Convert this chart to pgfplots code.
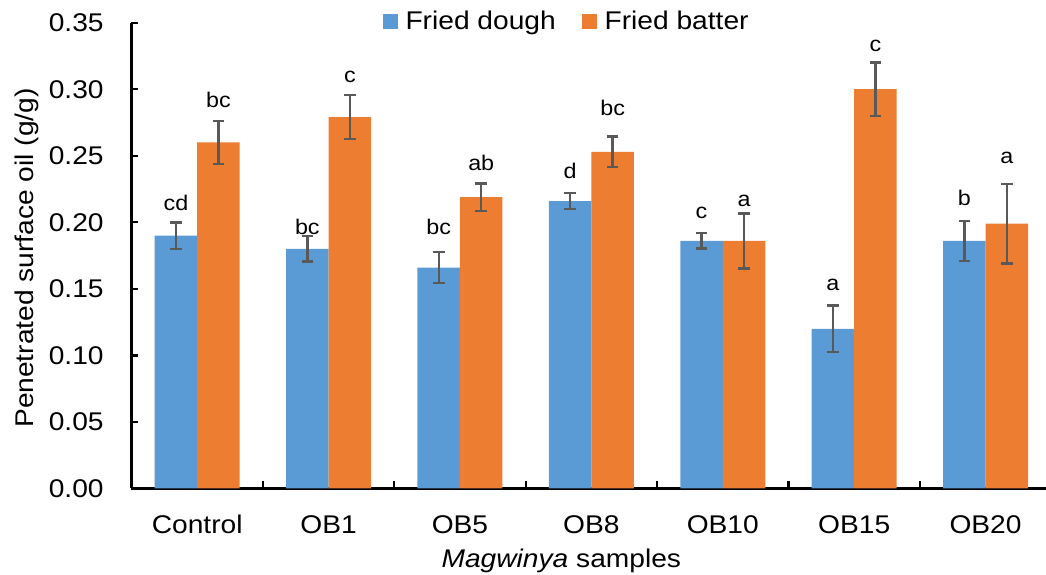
\documentclass[border=0pt]{standalone}
\usepackage{pgfplots}
\pgfplotsset{compat=1.18}
\usepackage{pgfplotstable}
\usepackage{fontspec}
\setmainfont[FakeStretch=1.1]{Liberation Sans}

\definecolor{doughblue}{HTML}{5B9BD5}
\definecolor{batterorange}{HTML}{ED7D31}
\definecolor{errgray}{HTML}{595959}

\newcommand\mainfs{\fontsize{12.8}{15.4}\selectfont}
\newcommand\letterfs{\fontsize{10.6}{12.5}\selectfont}

% x: sample index, y: mean, e: standard deviation, ly: height of the letter, lab: significance letter
\pgfplotstableread{
x  y      e       ly      lab
0  0.190  0.0100  0.2086  cd
1  0.180  0.0095  0.1910  bc
2  0.166  0.0116  0.1908  bc
3  0.216  0.0060  0.2329  d
4  0.186  0.0058  0.2029  c
5  0.120  0.0175  0.1485  a
6  0.186  0.0150  0.2128  b
}\dough

\pgfplotstableread{
x  y      e       ly      lab
0  0.260  0.0160  0.2866  bc
1  0.279  0.0165  0.3047  c
2  0.219  0.0103  0.2391  ab
3  0.253  0.0115  0.2804  bc
4  0.186  0.0206  0.2116  a
5  0.300  0.0200  0.3280  c
6  0.199  0.0300  0.2441  a
}\batter

% half a bar width, in axis units (10.625pt at 65.70pt per category)
\def\hoff{0.1617}

\begin{document}
\begin{tikzpicture}
\pgfplotsset{
  sq legend/.style={legend image code/.code={
      \fill[##1] (0pt,-3.75pt) rectangle (7.5pt,3.75pt);
      \path (11.4pt,0pt);}},
  letters/.style={draw=none, mark=none, forget plot,
      nodes near coords, point meta=explicit symbolic,
      nodes near coords style={anchor=base, inner sep=0pt, font=\letterfs, text=black}},
}
\begin{axis}[
  name=ax,
  scale only axis,
  width=457.25pt, height=232.9pt,
  xmin=-0.5, xmax=6.46,
  ymin=0, ymax=0.35,
  axis x line=bottom, axis y line=left,
  axis line style={-, line width=1.25pt, black},
  tick align=inside,
  tick style={line width=1.1pt, black},
  major tick length=3.5pt, minor tick length=3.5pt,
  xtick={0,1,2,3,4,5,6},
  xticklabels={Control,OB1,OB5,OB8,OB10,OB15,OB20},
  minor xtick={0.5,1.5,2.5,3.5,4.5,5.5},
  major x tick style={draw=none},
  ytick={0,0.05,0.10,0.15,0.20,0.25,0.30,0.35},
  yticklabel style={anchor=east, inner sep=0pt, xshift=-13.75pt, font=\mainfs,
      /pgf/number format/fixed, /pgf/number format/fixed zerofill,
      /pgf/number format/precision=2, /pgf/number format/assume math mode=true},
  xticklabel style={anchor=north, inner sep=0pt, yshift=-13.25pt, font=\mainfs},
  xlabel={\textit{Magwinya} samples},
  xlabel style={at={([yshift=-39.4pt]axis description cs:0.470,0)}, anchor=base, inner sep=0pt, font=\mainfs},
  ylabel={Penetrated surface oil (g/g)},
  ylabel style={at={([xshift=-49.1pt]axis description cs:0,0.495)}, anchor=base, inner sep=0pt, font=\mainfs},
  legend columns=2,
  legend style={at={(axis description cs:0.2747,1.0026)}, anchor=west,
      draw=none, fill=none, inner sep=0pt, outer sep=0pt,
      nodes={inner sep=0pt, font=\mainfs},
      /tikz/every even column/.append style={column sep=13pt}},
]
\addplot[ybar, bar width=21.25pt, bar shift=0pt, fill=doughblue, draw=none, sq legend,
    error bars/.cd, y dir=both, y explicit,
    error bar style={draw=errgray, line width=1.2pt},
    error mark options={rotate=90, draw=errgray, line width=1.2pt, mark size=2.9pt}]
  table[x expr=\thisrow{x}-\hoff, y=y, y error=e] {\dough};
\addlegendentry{Fried dough}
\addplot[ybar, bar width=21.25pt, bar shift=0pt, fill=batterorange, draw=none, sq legend,
    error bars/.cd, y dir=both, y explicit,
    error bar style={draw=errgray, line width=1.2pt},
    error mark options={rotate=90, draw=errgray, line width=1.2pt, mark size=2.9pt}]
  table[x expr=\thisrow{x}+\hoff, y=y, y error=e] {\batter};
\addlegendentry{Fried batter}

\addplot[letters] table[x expr=\thisrow{x}-\hoff, y=ly, meta=lab] {\dough};
\addplot[letters] table[x expr=\thisrow{x}+\hoff, y=ly, meta=lab] {\batter};
\end{axis}
\pgfresetboundingbox
\useasboundingbox ([xshift=-65.75pt, yshift=-43.25pt]ax.south west) rectangle ([yshift=11.35pt]ax.north east);
\end{tikzpicture}
\end{document}
